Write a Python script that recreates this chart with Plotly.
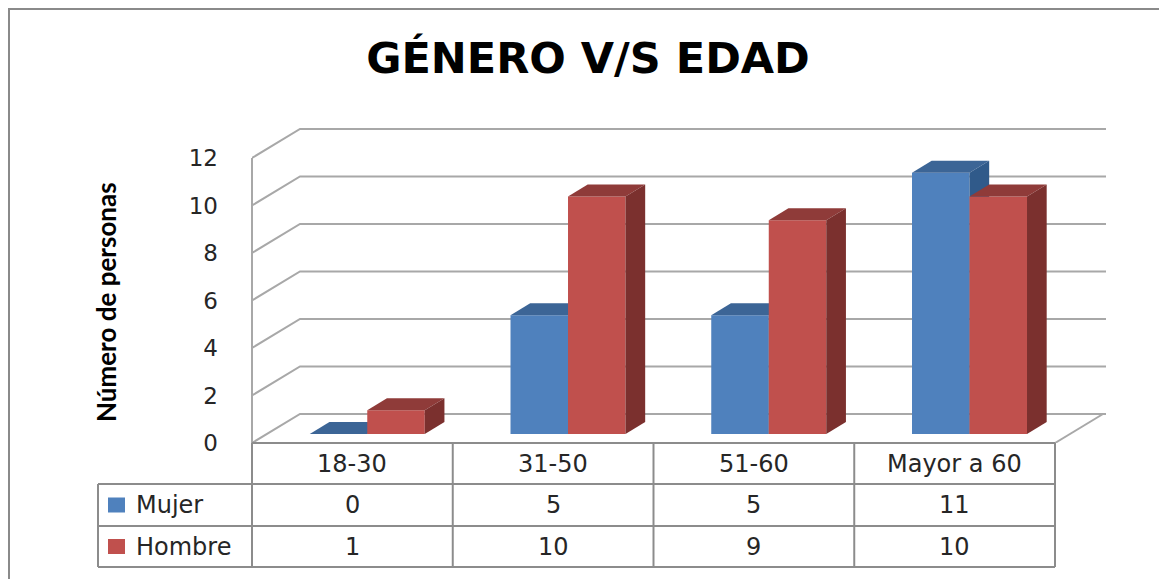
import plotly.graph_objects as go

# ---------------- data ----------------
categories = ["18-30", "31-50", "51-60", "Mayor a 60"]
mujer = [0, 5, 5, 11]
hombre = [1, 10, 9, 10]
series_names = ["Mujer", "Hombre"]
y_ticks = [0, 2, 4, 6, 8, 10, 12]
title_text = "GÉNERO V/S EDAD"
y_title = "Número de personas"

# ---------------- layout geometry (window pixels) ----------------
OFF = 8                                     # page body margin
WIN_W, WIN_H = 1167, 579
W, H = WIN_W - OFF, WIN_H - OFF
PL, PR, PT, PB = 252, 1106, 128, 443        # plot area in window pixels
FRONT_R = 1055                              # right edge of front plane
CAT_PX = (FRONT_R - PL) / len(categories)
UNIT_PX = 23.75
DEPTH_PX = (48, 29)
BAR_PX = 57.5
F0, F1 = 0.31, 0.72                         # bar front/back depth fractions

xmax = (PR - PL) / CAT_PX
ymax = (PB - PT) / UNIT_PX
DX = DEPTH_PX[0] / CAT_PX
DY = DEPTH_PX[1] / UNIT_PX
BW = BAR_PX / CAT_PX


def px_x(px):
    return (px - PL) / (PR - PL)


def px_y(py):
    return (PB - py) / (PB - PT)


front_cols = ["#4F81BD", "#C0504D"]
top_cols = ["#3C6596", "#8F3B39"]
side_cols = ["#305A8A", "#7B302E"]
FONT = "'DejaVu Sans', Verdana, sans-serif"
FONT_B = "Lato, 'Open Sans', sans-serif"
TXT = "#262626"
GRID = "#A8A8A8"
TBL = "#8C8C8C"

fig = go.Figure()

series_vals = [mujer, hombre]
base = F0 * DY
ddx = (F1 - F0) * DX
ddy = (F1 - F0) * DY
for s, vals in enumerate(series_vals):
    xa = "x" if s == 0 else "x2"
    ya = "y" if s == 0 else "y2"
    centers = [i + 0.5 + F0 * DX + (s - 0.5) * BW for i in range(len(categories))]
    fig.add_trace(go.Bar(
        x=centers, y=vals, base=base, width=BW, name=series_names[s],
        marker=dict(color=front_cols[s], line=dict(width=0)),
        xaxis=xa, yaxis=ya, showlegend=False, hoverinfo="skip"))
    for c, v in zip(centers, vals):
        xl, xr = c - BW / 2, c + BW / 2
        top = v + base
        fig.add_trace(go.Scatter(
            x=[xl, xr, xr + ddx, xl + ddx, xl],
            y=[top, top, top + ddy, top + ddy, top],
            mode="lines", fill="toself", fillcolor=top_cols[s],
            line=dict(width=0, color=top_cols[s]),
            xaxis=xa, yaxis=ya, showlegend=False, hoverinfo="skip"))
        if v > 0:
            fig.add_trace(go.Scatter(
                x=[xr, xr, xr + ddx, xr + ddx, xr],
                y=[base, top, top + ddy, base + ddy, base],
                mode="lines", fill="toself", fillcolor=side_cols[s],
                line=dict(width=0, color=side_cols[s]),
                xaxis=xa, yaxis=ya, showlegend=False, hoverinfo="skip"))

shapes = []
for v in y_ticks:
    shapes.append(dict(type="path", xref="x", yref="y", layer="below",
                       path=f"M 0,{v} L {DX},{v + DY} L {xmax},{v + DY}",
                       line=dict(color=GRID, width=2)))
n = len(categories)
shapes.append(dict(type="line", xref="x", yref="y", layer="below",
                   x0=n, y0=0, x1=n + DX, y1=DY, line=dict(color=GRID, width=2)))
shapes.append(dict(type="line", xref="paper", yref="paper", layer="below",
                   x0=0, y0=0, x1=0, y1=px_y(PB - y_ticks[-1] * UNIT_PX),
                   line=dict(color=GRID, width=2)))

# data table
T_TOP, T_H1, T_H2, T_BOT = 443, 484, 526, 567
T_LEFT = 98
col_edges = [PL + i * CAT_PX for i in range(n + 1)]
shapes.append(dict(type="line", xref="paper", yref="paper",
                   x0=px_x(PL), x1=px_x(FRONT_R), y0=px_y(T_TOP), y1=px_y(T_TOP),
                   line=dict(color=TBL, width=2)))
for yy in (T_H1, T_H2, T_BOT):
    shapes.append(dict(type="line", xref="paper", yref="paper",
                       x0=px_x(T_LEFT), x1=px_x(FRONT_R), y0=px_y(yy), y1=px_y(yy),
                       line=dict(color=TBL, width=2)))
for xx in col_edges:
    shapes.append(dict(type="line", xref="paper", yref="paper",
                       x0=px_x(xx), x1=px_x(xx), y0=px_y(T_TOP), y1=px_y(T_BOT),
                       line=dict(color=TBL, width=2)))
shapes.append(dict(type="line", xref="paper", yref="paper",
                   x0=px_x(T_LEFT), x1=px_x(T_LEFT), y0=px_y(T_H1), y1=px_y(T_BOT),
                   line=dict(color=TBL, width=2)))
row_centers = [(T_H1 + T_H2) / 2, (T_H2 + T_BOT) / 2]
for s in range(2):
    rc = row_centers[s]
    shapes.append(dict(type="rect", xref="paper", yref="paper",
                       x0=px_x(108), x1=px_x(125), y0=px_y(rc + 7.5), y1=px_y(rc - 7.5),
                       fillcolor=front_cols[s], line=dict(width=0)))

# chart frame (top & left edges)
shapes.append(dict(type="line", xref="paper", yref="paper",
                   x0=px_x(OFF), x1=px_x(WIN_W + 5), y0=px_y(OFF + 1), y1=px_y(OFF + 1),
                   line=dict(color="#8A8A8A", width=2)))
shapes.append(dict(type="line", xref="paper", yref="paper",
                   x0=px_x(OFF + 1), x1=px_x(OFF + 1), y0=px_y(OFF), y1=px_y(WIN_H + 5),
                   line=dict(color="#8A8A8A", width=2)))

annotations = []
hc = (T_TOP + T_H1) / 2
for i, cat in enumerate(categories):
    cx = (col_edges[i] + col_edges[i + 1]) / 2
    annotations.append(dict(x=px_x(cx), y=px_y(hc), xref="paper", yref="paper",
                            xanchor="center", yanchor="middle",
                            text=cat, showarrow=False,
                            font=dict(family=FONT, size=24, color=TXT)))
    for s in range(2):
        annotations.append(dict(x=px_x(cx), y=px_y(row_centers[s]), xref="paper", yref="paper",
                                xanchor="center", yanchor="middle",
                                text=str(series_vals[s][i]), showarrow=False,
                                font=dict(family=FONT, size=24, color=TXT)))
for s in range(2):
    annotations.append(dict(x=px_x(134), y=px_y(row_centers[s]), xref="paper", yref="paper",
                            text=series_names[s], showarrow=False,
                            xanchor="left", yanchor="middle",
                            font=dict(family=FONT, size=24, color=TXT)))
annotations.append(dict(x=px_x(106), y=px_y(302), xref="paper", yref="paper",
                        xanchor="center", yanchor="middle",
                        text=f"<b>{y_title}</b>", showarrow=False, textangle=-90,
                        font=dict(family=FONT_B, size=26, color="#000000")))

fig.update_layout(
    width=W, height=H,
    margin=dict(l=PL - OFF, r=WIN_W - PR, t=PT - OFF, b=WIN_H - PB, pad=0),
    paper_bgcolor="white", plot_bgcolor="rgba(0,0,0,0)",
    title=dict(text=f"<b>{title_text}</b>", x=(588 - OFF) / W, y=1 - (58 - OFF) / H,
               xanchor="center", yanchor="middle",
               font=dict(family=FONT, size=43, color="#000000")),
    xaxis=dict(range=[0, xmax], visible=False, fixedrange=True),
    yaxis=dict(range=[0, ymax], tickvals=y_ticks, showgrid=False, zeroline=False,
               showline=False, ticks="", ticklabelstandoff=33,
               tickfont=dict(family=FONT, size=23, color=TXT), fixedrange=True),
    xaxis2=dict(range=[0, xmax], visible=False, overlaying="x", fixedrange=True),
    yaxis2=dict(range=[0, ymax], visible=False, overlaying="y", fixedrange=True),
    shapes=shapes, annotations=annotations,
    showlegend=False,
)

fig.write_html("out.html")
